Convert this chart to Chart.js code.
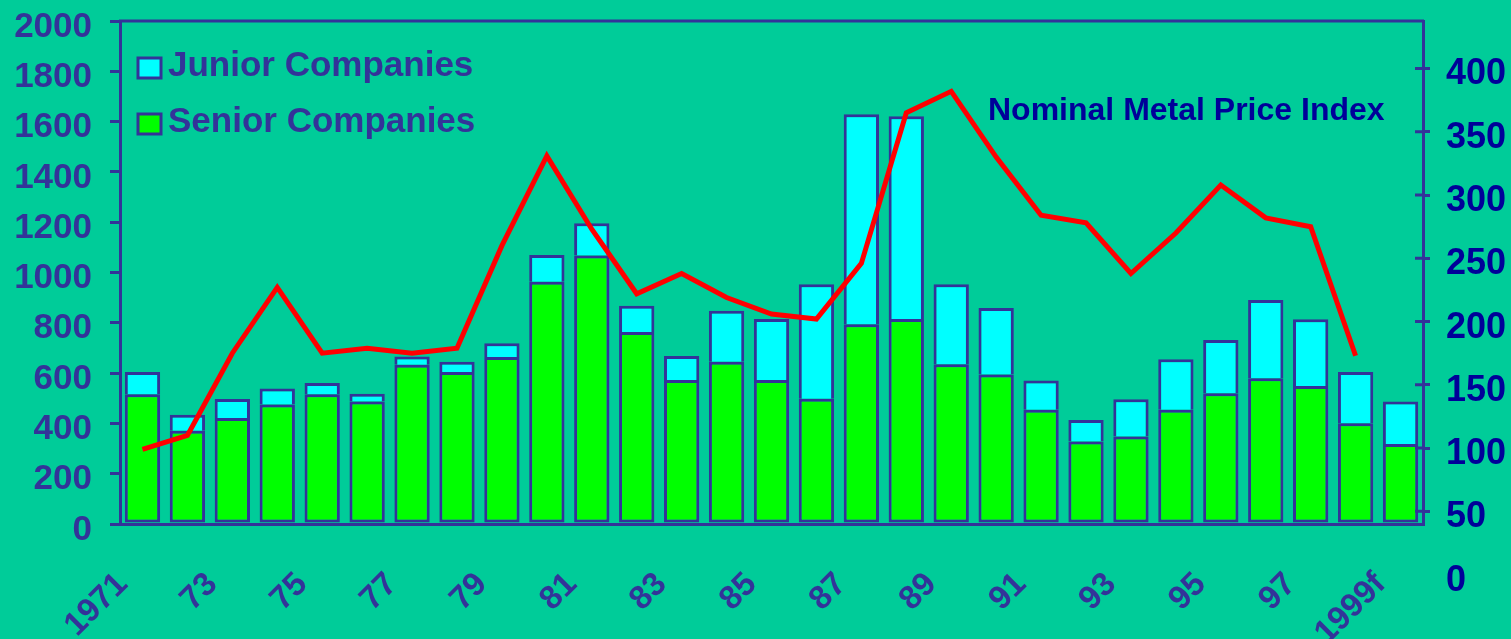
<!DOCTYPE html>
<html lang="en">
<head>
<meta charset="UTF-8">
<title>Junior and Senior Companies vs Nominal Metal Price Index</title>
<script src="https://cdn.jsdelivr.net/npm/chart.js@4.4.1/dist/chart.umd.min.js"></script>
<style>
  body {
    margin: 0;
    background: #00cc99;
  }
  #wrap {
    position: relative;
    width: 1511px;
    height: 639px;
  }
</style>
</head>
<body>
<div id="wrap"><canvas id="chart"></canvas></div>
<script>
const years = ['1971', '72', '73', '74', '75', '76', '77', '78', '79', '80', '81', '82', '83', '84', '85',
  '86', '87', '88', '89', '90', '91', '92', '93', '94', '95', '96', '97', '98', '1999f'];
const senior = [516, 371, 421, 475, 516, 487, 633, 604, 664, 963, 1068, 763, 573, 645, 573,
  498, 794, 815, 635, 594, 454, 328, 348, 454, 520, 580, 549, 401, 318];
const junior = [88, 63, 76, 64, 45, 31, 33, 41, 55, 107, 128, 105, 95, 203, 242,
  455, 835, 806, 318, 265, 117, 86, 148, 201, 212, 311, 265, 203, 169];
const metalIndex = [99, 110, 175, 227, 175, 179, 175, 179, 260, 331, 273, 222, 238, 219, 206,
  202, 246, 365, 382, 330, 284, 278, 238, 270, 308, 282, 275, 173, null];
const rightTicks = [0, 50, 100, 150, 200, 250, 300, 350, 400];

const axisColor = '#333399';
const navy = '#000099';
const fontFamily = '"Liberation Sans", Arial, sans-serif';
const lw = 3;

// plot frame top, inner half of right ticks, legend and the index caption
const frame = {
  id: 'frame',
  afterDraw(chart) {
    const { ctx, chartArea: a } = chart;
    const y1 = chart.scales.y1;
    ctx.save();
    ctx.strokeStyle = axisColor;
    ctx.lineWidth = lw;
    ctx.beginPath();
    ctx.moveTo(a.left - 1, a.top);
    ctx.lineTo(a.right + 1, a.top);
    y1.ticks.forEach(t => {
      const py = y1.getPixelForValue(t.value);
      if (py >= a.top && py <= a.bottom) {
        ctx.moveTo(a.right - 8, py);
        ctx.lineTo(a.right, py);
      }
    });
    ctx.stroke();

    const items = [chart.data.datasets[2], chart.data.datasets[1]];
    ctx.font = 'bold 35px ' + fontFamily;
    ctx.textBaseline = 'middle';
    ctx.textAlign = 'left';
    items.forEach((ds, i) => {
      const bx = a.left + 18;
      const by = a.top + 37 + i * 56;
      ctx.fillStyle = ds.backgroundColor;
      ctx.fillRect(bx, by, 23, 20);
      ctx.lineWidth = lw;
      ctx.strokeStyle = axisColor;
      ctx.strokeRect(bx, by, 23, 20);
      ctx.fillStyle = axisColor;
      ctx.fillText(ds.label, a.left + 48, a.top + 45 + i * 56);
    });

    ctx.font = 'bold 32px ' + fontFamily;
    ctx.fillStyle = navy;
    ctx.fillText(chart.data.datasets[0].label, a.right - 435, 111);
    ctx.restore();
  }
};

new Chart(document.getElementById('chart'), {
  data: {
    labels: years,
    datasets: [
      {
        type: 'line',
        label: 'Nominal Metal Price Index',
        data: metalIndex,
        yAxisID: 'y1',
        borderColor: '#ff0000',
        borderWidth: 5,
        pointRadius: 0,
        tension: 0,
        order: 0
      },
      {
        type: 'bar',
        label: 'Senior Companies',
        data: senior,
        yAxisID: 'y',
        backgroundColor: '#00ff00',
        borderColor: axisColor,
        borderWidth: lw,
        borderSkipped: false,
        barPercentage: 0.786,
        categoryPercentage: 1,
        order: 1
      },
      {
        type: 'bar',
        label: 'Junior Companies',
        data: junior,
        yAxisID: 'y',
        backgroundColor: '#00ffff',
        borderColor: axisColor,
        borderWidth: lw,
        borderSkipped: 'bottom',
        barPercentage: 0.786,
        categoryPercentage: 1,
        order: 1
      }
    ]
  },
  options: {
    responsive: true,
    maintainAspectRatio: false,
    animation: false,
    layout: { padding: { top: 21, left: 0, right: 0, bottom: 0 } },
    plugins: {
      legend: { display: false },
      tooltip: { enabled: false }
    },
    scales: {
      x: {
        stacked: true,
        grid: { display: false },
        border: { color: axisColor, width: lw },
        afterFit: s => { s.height = 115; s.paddingLeft = 0; s.paddingRight = 0; },
        ticks: {
          autoSkip: false,
          minRotation: 45,
          maxRotation: 45,
          padding: 33,
          labelOffset: -20,
          color: axisColor,
          font: { family: fontFamily, size: 33, weight: 'bold' },
          callback: (v, i) => (i % 2 === 0 ? years[i] : '')
        }
      },
      y: {
        position: 'left',
        stacked: true,
        min: 0,
        max: 2000,
        afterFit: s => { s.width = 120; s.paddingTop = 0; s.paddingBottom = 0; },
        grid: { drawOnChartArea: false, tickLength: 10, color: axisColor, lineWidth: lw },
        border: { color: axisColor, width: lw },
        ticks: {
          stepSize: 200,
          autoSkip: false,
          padding: 18,
          labelOffset: 6,
          color: axisColor,
          font: { family: fontFamily, size: 35, weight: 'bold' },
          callback: v => String(v)
        }
      },
      y1: {
        position: 'right',
        min: 40,
        max: 437.6,
        afterBuildTicks: s => { s.ticks = rightTicks.map(v => ({ value: v })); },
        afterFit: s => { s.width = 88; s.paddingTop = 0; s.paddingBottom = 0; },
        grid: {
          drawOnChartArea: false,
          tickLength: 7,
          lineWidth: lw,
          color: c => (c.tick && c.tick.value === 0 ? 'rgba(0,0,0,0)' : axisColor)
        },
        border: { color: axisColor, width: lw },
        ticks: {
          autoSkip: false,
          padding: 16,
          labelOffset: 6,
          color: navy,
          font: { family: fontFamily, size: 36, weight: 'bold' },
          callback: v => String(v)
        }
      }
    }
  },
  plugins: [frame]
});
</script>
</body>
</html>
